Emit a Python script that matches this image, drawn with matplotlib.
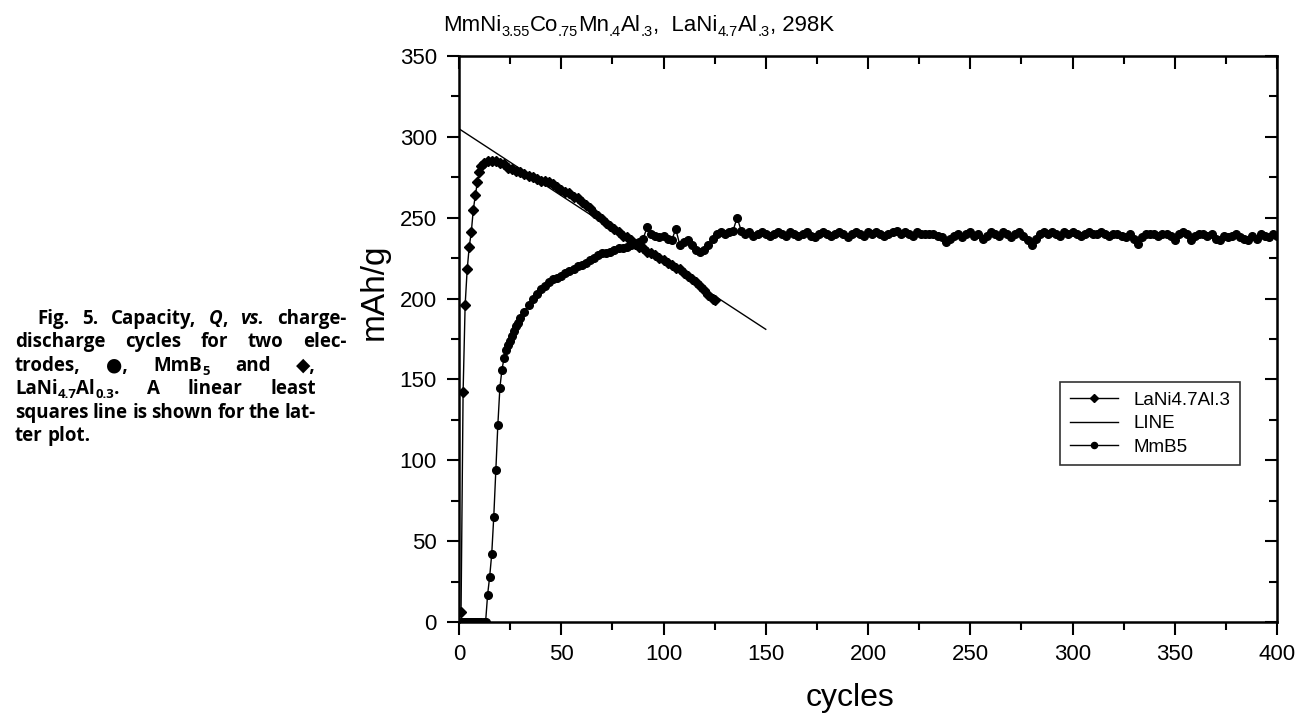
import matplotlib
matplotlib.use("Agg")
import matplotlib.pyplot as plt
from matplotlib.ticker import MultipleLocator, NullFormatter

plt.rcParams['font.family'] = ['Liberation Sans', 'DejaVu Sans']

W, H = 1298, 713

# LaNi4.7Al.3 capacity (mAh/g) per cycle
lani_cycles = list(range(1, 13)) + list(range(14, 125, 2)) + [125]
lani_mah = [6, 142, 196, 218, 232, 241, 255, 264, 272, 278, 282, 284,
            285, 285, 285, 284, 283, 281, 280, 279, 278, 277,
            276, 275, 274, 273, 273, 272, 271, 269, 267, 266,
            265, 263, 262, 260, 258, 256, 253, 251, 249, 247,
            245, 243, 241, 239, 238, 236, 234, 232, 231, 229,
            228, 227, 225, 224, 222, 221, 219, 218, 216, 214,
            212, 210, 208, 205, 202, 200,
            199]

# least squares line through the LaNi points
line_cycles = [0, 150]
line_mah = [305, 181]

# MmB5 capacity (mAh/g) per cycle
mmb5_cycles = list(range(1, 31)) + list(range(32, 401, 2))
mmb5_mah = ([0] * 13 +
            [17, 28, 42, 65, 94, 122, 145, 156, 163, 168,
             171, 174, 177, 180, 183, 185, 188] +
            [192, 196, 200, 203, 206, 208, 210, 212, 213, 214,
             216, 217, 218, 220, 221, 222, 224, 225, 227, 228,
             228, 229, 230, 231, 231, 232, 233, 234, 235, 237,
             244, 240, 239, 238, 239, 237, 236, 243, 233, 235,
             236, 233, 230, 229, 230, 233, 237, 240, 241, 240,
             241, 242, 250, 242] +
            [240, 241, 239, 240, 241, 240, 239, 240, 241, 240, 239] +
            [241, 240, 239, 240, 241, 239, 238, 240, 241, 240,
             239, 240, 241, 240, 238, 240, 241, 240, 239, 241] +
            [240, 241, 240, 239, 240, 241, 242, 240, 241, 240,
             239, 241, 240, 240, 240, 240, 239, 238, 235, 237] +
            [239, 240, 238, 240, 241, 239, 240, 237, 239, 241,
             240, 239, 241, 240, 238, 240, 241, 239, 236, 233] +
            [237, 240, 241, 240, 241, 240, 239, 241, 240, 241,
             240, 239, 240, 241, 240, 240, 241, 240, 239, 240] +
            [240, 239, 238, 240, 237, 234, 238, 240, 240, 240,
             239, 240, 240, 239, 236, 240, 241, 240, 236, 239] +
            [240, 240, 239, 240, 237, 236, 239, 238, 239, 240,
             238, 237, 236, 239, 237, 240, 239, 238, 240, 239])

fig = plt.figure(figsize=(W / 100, H / 100), dpi=100)
ax = fig.add_axes([459 / W, 91 / H, 818 / W, 566 / H])

ax.plot(lani_cycles, lani_mah, color='k', lw=1, marker='D', ms=5.5,
        label='LaNi4.7Al.3')
ax.plot(line_cycles, line_mah, color='k', lw=1, label='LINE')
ax.plot(mmb5_cycles, mmb5_mah, color='k', lw=1, marker='o', ms=5.5,
        label='MmB5')

ax.set_xlim(0, 400)
ax.set_ylim(0, 350)
ax.xaxis.set_major_locator(MultipleLocator(50))
ax.xaxis.set_minor_locator(MultipleLocator(25))
ax.yaxis.set_major_locator(MultipleLocator(50))
ax.yaxis.set_minor_locator(MultipleLocator(25))
ax.tick_params(which='major', direction='out', length=9, width=1.5,
               labelsize=16, pad=7)
ax.tick_params(which='minor', direction='out', length=5.5, width=1.5)
for s in ax.spines.values():
    s.set_linewidth(1.8)

# inward ticks on the top and right frame
top = ax.secondary_xaxis('top')
top.xaxis.set_major_locator(MultipleLocator(50))
top.xaxis.set_minor_locator(MultipleLocator(25))
top.xaxis.set_major_formatter(NullFormatter())
top.tick_params(which='major', direction='in', length=9, width=1.5)
top.tick_params(which='minor', direction='in', length=5.5, width=1.5)
right = ax.secondary_yaxis('right')
right.yaxis.set_major_locator(MultipleLocator(50))
right.yaxis.set_minor_locator(MultipleLocator(25))
right.yaxis.set_major_formatter(NullFormatter())
right.tick_params(which='major', direction='in', length=9, width=1.5)
right.tick_params(which='minor', direction='in', length=5.5, width=1.5)

ax.set_xlabel('cycles', fontsize=23)
ax.set_ylabel('mAh/g', fontsize=24)
ax.xaxis.set_label_coords(0.478, -0.108)
ax.yaxis.set_label_coords(-0.085, 0.583)

leg = ax.legend(loc='upper left', bbox_to_anchor=(0.735, 0.424),
                borderaxespad=0, fontsize=13.5, frameon=True, fancybox=False,
                markerscale=0.8, handlelength=2.6, borderpad=0.5,
                labelspacing=0.35)
leg.get_frame().set_edgecolor('k')
leg.get_frame().set_linewidth(1.2)

fig.canvas.draw()
renderer = fig.canvas.get_renderer()


def make_runs(word, props):
    # one text per run, measured in pixels
    runs = []
    for text, style in word:
        p = props(style)
        t = fig.text(0, 0, text, va='baseline', ha='left', **p)
        runs.append((t, t.get_window_extent(renderer).width, style))
    return runs


def place_runs(runs, x, base, drop):
    for t, rw, style in runs:
        d = drop if 's' in style else 0
        t.set_position((x / W, 1 - (base + d) / H))
        x += rw
    return x


# title with subscripts
def title_props(style):
    return dict(family=['Liberation Sans'], size=10.5 if 's' in style else 16, color='k')


title_runs = [("MmNi", ""), ("3.55", "s"), ("Co", ""), (".75", "s"), ("Mn", ""),
              (".4", "s"), ("Al", ""), (".3", "s"), (",  LaNi", ""), ("4.7", "s"),
              ("Al", ""), (".3", "s"), (", 298K", "")]
place_runs(make_runs(title_runs, title_props), 443, 31, 5)

# justified figure caption, each word built from styled runs
cap_size = 13.5


def cap_props(style):
    p = dict(family=['Open Sans', 'DejaVu Sans'], weight='bold', size=cap_size, color='k')
    if 'i' in style:
        p['style'] = 'italic'
    if 's' in style:
        p['size'] = cap_size * 0.7
    return p


caption = [
    (324, 37, 346, True, [[("Fig.", "")], [("5.", "")], [("Capacity,", "")],
                          [("Q", "i"), (",", "")], [("vs.", "i")], [("charge-", "")]]),
    (347, 15, 346, True, [[("discharge", "")], [("cycles", "")], [("for", "")],
                          [("two", "")], [("elec-", "")]]),
    (371, 15, 316, True, [[("trodes,", "")], [("●,", "")], [("MmB", ""), ("5", "s")],
                          [("and", "")], [("◆,", "")]]),
    (394, 15, 316, True, [[("LaNi", ""), ("4.7", "s"), ("Al", ""), ("0.3", "s"), (".", "")],
                          [("A", "")], [("linear", "")], [("least", "")]]),
    (418, 15, 316, True, [[("squares", "")], [("line", "")], [("is", "")], [("shown", "")],
                          [("for", "")], [("the", "")], [("lat-", "")]]),
    (441, 15, None, False, [[("ter", "")], [("plot.", "")]]),
]

for base, left, right_edge, justify, words in caption:
    made = [make_runs(word, cap_props) for word in words]
    widths = [sum(w for _, w, _ in runs) for runs in made]
    if justify:
        gap = (right_edge - left - sum(widths)) / (len(made) - 1)
    else:
        gap = 5
    x = left
    for runs, w in zip(made, widths):
        place_runs(runs, x, base, 4)
        x += w + gap

fig.savefig('out.png', dpi=100)
